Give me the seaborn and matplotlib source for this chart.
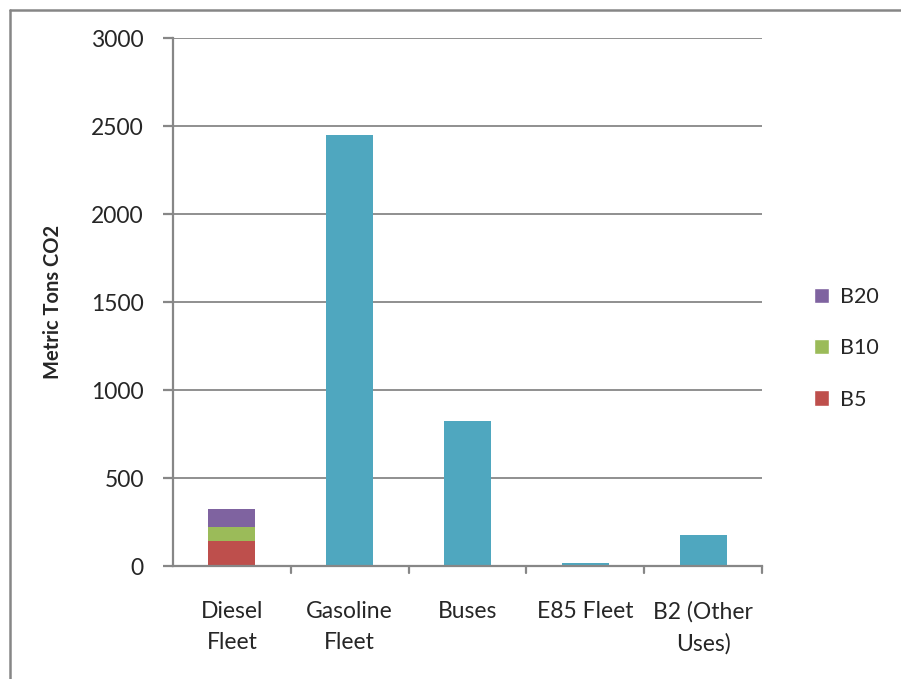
import matplotlib
matplotlib.use("Agg")
import matplotlib.pyplot as plt
from matplotlib.lines import Line2D
from matplotlib.patches import Patch
import pandas as pd
import seaborn as sns

# Emissions by fleet segment (metric tons CO2)
categories = ["Diesel\nFleet", "Gasoline\nFleet", "Buses", "E85 Fleet", "B2 (Other\nUses)"]
b5 = [142, 0, 0, 0, 0]
b10 = [80, 0, 0, 0, 0]
b20 = [102, 0, 0, 0, 0]
other = [0, 2450, 825, 17, 175]
y_ticks = [0, 500, 1000, 1500, 2000, 2500, 3000]

C_B5 = "#BE4F4C"
C_B10 = "#9BBB59"
C_B20 = "#7F63A0"
C_OTHER = "#4FA7BF"
GRID = "#878787"

sns.set_theme(style="white")
plt.rcParams["font.family"] = ["Lato", "DejaVu Sans"]

fig = plt.figure(figsize=(9.01, 6.79), dpi=100)
ax = fig.add_axes([0.192, 0.1664, 0.6537, 0.7769])

df = pd.DataFrame({
    "category": categories,
    "b5": b5,
    "b10": b10,
    "b20": b20,
    "other": other,
})
df["lvl_b10"] = df["b5"] + df["b10"]
df["lvl_b20"] = df["lvl_b10"] + df["b20"]

# Stacked bars drawn back to front as cumulative totals
for col, color in [("other", C_OTHER), ("lvl_b20", C_B20), ("lvl_b10", C_B10), ("b5", C_B5)]:
    sns.barplot(data=df, x="category", y=col, color=color, width=0.4,
                saturation=1, ax=ax, zorder=3, linewidth=0)

ax.set_xlim(-0.5, 4.5)
ax.set_ylim(0, 3000)
ax.set_yticks(y_ticks)
ax.set_yticklabels([str(t) for t in y_ticks], fontsize=16.5)
ax.yaxis.grid(True, color=GRID, linewidth=1.3, zorder=0)
ax.set_axisbelow(True)

# category labels centred, ticks at category boundaries
ax.set_xticks(range(len(categories)))
ax.set_xticklabels(categories, fontsize=16.5, linespacing=1.6)
ax.tick_params(axis="x", length=0, pad=25)
for xb in [0.5, 1.5, 2.5, 3.5, 4.5]:
    ax.plot([xb, xb], [0, -0.014], transform=ax.get_xaxis_transform(),
            color=GRID, linewidth=1.6, clip_on=False, zorder=4)
ax.tick_params(axis="y", length=7, width=1.6, color=GRID, left=True, pad=14)

for side in ["top", "right"]:
    ax.spines[side].set_visible(False)
for side in ["left", "bottom"]:
    ax.spines[side].set_color(GRID)
    ax.spines[side].set_linewidth(1.6)
    ax.spines[side].set_zorder(5)

ax.set_xlabel("")
ax.set_ylabel("Metric Tons CO2", fontsize=14.5, fontweight="bold", labelpad=20)

handles = [Patch(facecolor=C_B20, label="B20"),
           Patch(facecolor=C_B10, label="B10"),
           Patch(facecolor=C_B5, label="B5")]
fig.legend(handles=handles, loc="center left", bbox_to_anchor=(0.882, 0.487),
           frameon=False, fontsize=15.5, handlelength=0.7, handleheight=0.7,
           handletextpad=0.5, labelspacing=1.45)

# chart-area border along the top and left edges
border = dict(color="#868686", linewidth=1.8, transform=fig.transFigure)
fig.lines.append(Line2D([10 / 901, 1], [1 - 10 / 679, 1 - 10 / 679], **border))
fig.lines.append(Line2D([10 / 901, 10 / 901], [0, 1 - 10 / 679], **border))

fig.savefig("out.png", dpi=100)
